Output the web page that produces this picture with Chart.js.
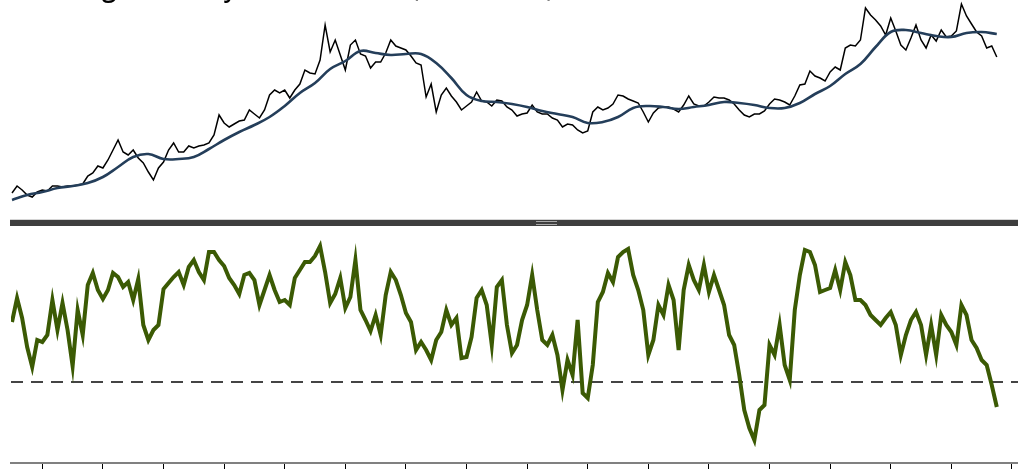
<!DOCTYPE html>
<html>
<head>
<meta charset="utf-8">
<script src="https://cdn.jsdelivr.net/npm/chart.js@4.4.1/dist/chart.umd.min.js"></script>
<style>
    html, body { margin: 0; padding: 0; background: #ffffff; }
    body { width: 1018px; height: 469px; position: relative; overflow: hidden; }
    canvas { position: absolute; left: 0; }
    #priceChart { top: 0; }
    #oscChart { top: 228px; }
    .chart-title {
        position: absolute; left: 18px; top: -35px;
        font-family: 'Open Sans', sans-serif; font-size: 34px; line-height: 34px;
        word-spacing: 3px;
        transform: scaleX(0.82); transform-origin: 0 0;
        color: #000; white-space: nowrap;
    }
    .splitter {
        position: absolute; left: 10px; top: 219px; width: 1008px; height: 6px;
        background: #3e3e3e; border-top: 1px solid #d4d4d4;
    }
    .splitter .grip {
        position: absolute; left: 526px; top: 1px; width: 21px; height: 2px;
        border-top: 1px solid #a8a8a8; border-bottom: 1px solid #a8a8a8;
    }
</style>
</head>
<body>
<canvas id="priceChart" width="1018" height="218"></canvas>
<canvas id="oscChart" width="1018" height="241"></canvas>
<div class="splitter"><div class="grip"></div></div>
<div class="chart-title">Trading Intensity Momentum (RSI, Close)</div>

<script>
// ========== DATOS ==========

// meses desde el inicio de la serie (índice), marcas del eje en cada enero
const firstMonth = 0;
const yearTicks = [6, 18, 30, 42, 54, 66, 78, 90, 102, 114, 126, 138, 150, 162, 174, 186, 198];

// precio de cierre mensual
const priceValues = [
    27, 34, 30, 25, 23, 28, 30, 29, 34, 34,
    33, 34, 34, 35, 36, 44, 47, 54, 52, 60,
    70, 80, 68, 65, 70, 62, 57, 48, 40, 52,
    58, 70, 77, 68, 68, 74, 72, 74, 75, 77,
    85, 105, 97, 93, 96, 99, 100, 110, 106, 102,
    110, 125, 130, 127, 130, 122, 130, 136, 150, 147,
    146, 160, 195, 168, 180, 165, 150, 175, 180, 166,
    164, 152, 158, 158, 167, 180, 174, 172, 170, 164,
    157, 155, 123, 136, 108, 125, 132, 124, 118, 110,
    114, 118, 128, 119, 118, 114, 120, 119, 113, 110,
    104, 106, 107, 115, 108, 106, 106, 102, 100, 93,
    96, 95, 90, 87, 89, 108, 113, 110, 112, 116,
    125, 124, 121, 119, 117, 108, 98, 107, 112, 113,
    113, 111, 108, 115, 124, 116, 114, 114, 118, 123,
    122, 122, 120, 116, 110, 105, 103, 106, 106, 109,
    116, 121, 120, 118, 115, 124, 135, 136, 149, 144,
    142, 139, 148, 153, 150, 172, 175, 174, 180, 212,
    205, 200, 194, 185, 202, 189, 175, 170, 182, 195,
    180, 172, 185, 179, 190, 183, 184, 189, 216, 204,
    196, 188, 184, 172, 174, 163
];

// media móvil, un valor cada 3 meses
const maStep = 3;
const maValues = [
    20, 25, 28, 32, 34, 37, 43, 53, 63, 66,
    61, 61, 63, 71, 80, 88, 95, 103, 114, 127,
    137, 151, 159, 169, 167, 165, 166, 166, 157, 142,
    125, 119, 118, 116, 113, 109, 106, 103, 97, 98,
    103, 112, 114, 113, 111, 113, 115, 118, 117, 115,
    112, 112, 117, 126, 134, 146, 156, 173, 188, 190,
    187, 184, 183, 187, 188, 186
];

// oscilador (0 = línea discontinua)
const oscValues = [
    60, 84, 64, 35, 15, 42, 40, 47, 82, 52,
    79, 52, 16, 72, 47, 97, 109, 92, 83, 92,
    109, 105, 95, 100, 82, 103, 57, 42, 52, 57,
    93, 99, 105, 110, 97, 115, 122, 110, 102, 130,
    130, 122, 116, 104, 97, 88, 107, 109, 102, 77,
    92, 107, 92, 80, 82, 77, 104, 112, 120, 120,
    126, 136, 110, 79, 88, 104, 74, 85, 122, 72,
    62, 51, 67, 47, 87, 110, 102, 87, 69, 60,
    32, 40, 32, 22, 42, 50, 72, 57, 64, 24,
    25, 45, 84, 92, 77, 37, 95, 102, 57, 29,
    37, 62, 77, 107, 72, 42, 37, 47, 27, -8,
    22, 7, 62, -11, -16, 17, 80, 90, 109, 100,
    125, 130, 133, 107, 92, 72, 27, 42, 77, 67,
    97, 82, 32, 92, 117, 102, 92, 117, 90, 107,
    92, 77, 47, 37, 7, -28, -46, -58, -28, -23,
    37, 27, 57, 17, 2, 72, 107, 132, 130, 117,
    90, 92, 94, 112, 92, 120, 107, 82, 82, 77,
    67, 62, 57, 64, 70, 57, 27, 47, 62, 70,
    57, 27, 57, 27, 67, 57, 50, 37, 77, 67,
    42, 34, 22, 17, -3, -25
];
const oscBaseline = 0;

// límites de los ejes
const xMin = -0.2, xMax = 199.2;
const priceMin = 2, priceMax = 220;
const oscMin = -81, oscMax = 154;

// ========== GRÁFICOS ==========

function toPoints(values, step) {
    return values.map((v, i) => ({ x: firstMonth + i * step, y: v }));
}

function createPriceChart() {
    const ctx = document.getElementById('priceChart');
    new Chart(ctx, {
        type: 'line',
        data: {
            datasets: [{
                label: 'Media móvil',
                data: toPoints(maValues, maStep),
                borderColor: '#243e5a',
                borderWidth: 2.6,
                tension: 0.4,
                pointRadius: 0
            }, {
                label: 'Precio',
                data: toPoints(priceValues, 1),
                borderColor: '#000000',
                borderWidth: 1.5,
                tension: 0,
                pointRadius: 0
            }]
        },
        options: {
            responsive: false,
            animation: false,
            layout: { padding: { left: 11, right: 0, top: 0, bottom: 0 } },
            scales: {
                x: { type: 'linear', min: xMin, max: xMax, display: false },
                y: { min: priceMin, max: priceMax, display: false }
            },
            plugins: { legend: { display: false }, tooltip: { enabled: false } }
        }
    });
}

function createOscChart() {
    const ctx = document.getElementById('oscChart');
    new Chart(ctx, {
        type: 'line',
        data: {
            datasets: [{
                label: 'Oscilador',
                data: toPoints(oscValues, 1),
                borderColor: '#3b5a04',
                borderWidth: 4,
                tension: 0,
                pointRadius: 0
            }, {
                label: 'Base',
                data: [{ x: xMin, y: oscBaseline }, { x: xMax, y: oscBaseline }],
                borderColor: '#444444',
                borderWidth: 2,
                borderDash: [12, 8],
                pointRadius: 0
            }]
        },
        options: {
            responsive: false,
            animation: false,
            layout: { padding: { left: 11, right: 0, top: 0, bottom: 0 } },
            scales: {
                x: {
                    type: 'linear',
                    min: xMin,
                    max: xMax,
                    afterBuildTicks: (scale) => {
                        scale.ticks = yearTicks.map(v => ({ value: v }));
                    },
                    ticks: { display: false },
                    grid: {
                        drawOnChartArea: false,
                        drawTicks: true,
                        tickLength: 6,
                        color: '#000000',
                        lineWidth: 1
                    },
                    border: { display: true, color: '#808080', width: 2 }
                },
                y: { min: oscMin, max: oscMax, display: false }
            },
            plugins: { legend: { display: false }, tooltip: { enabled: false } }
        }
    });
}

createPriceChart();
createOscChart();
</script>
</body>
</html>
